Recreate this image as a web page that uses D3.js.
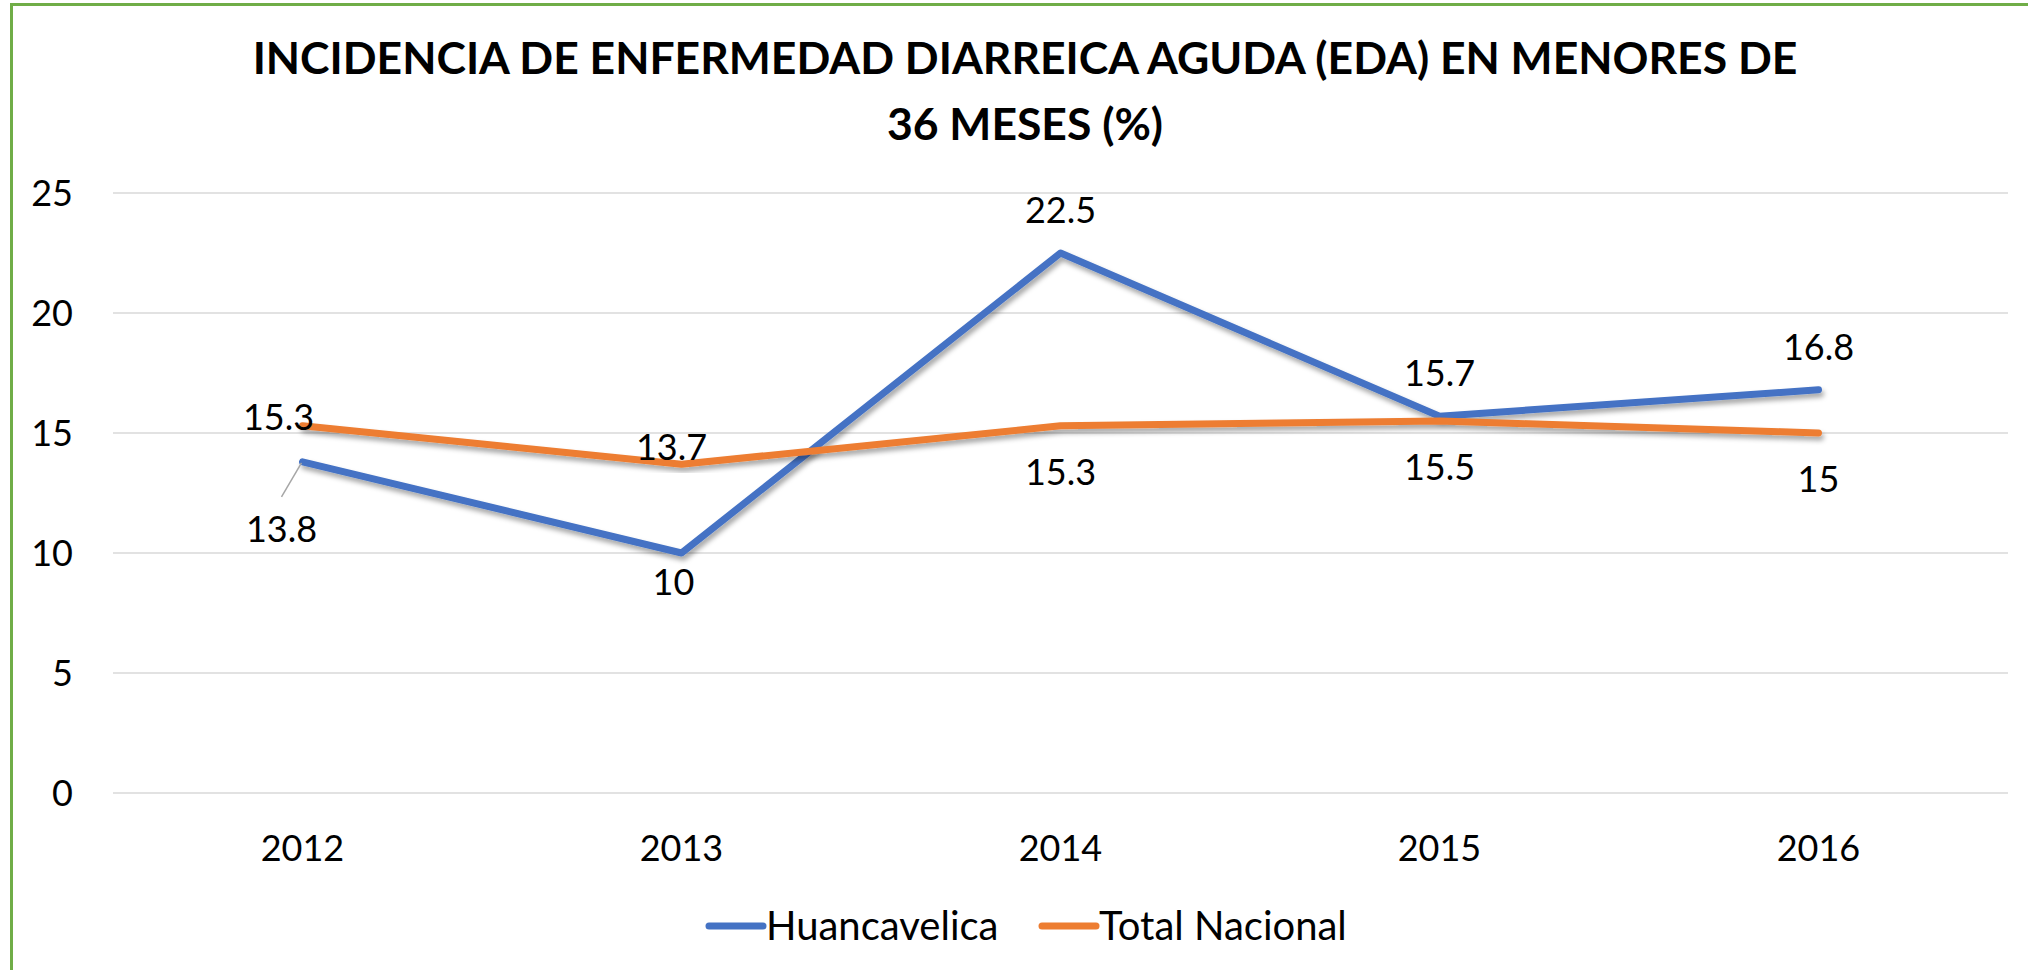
<!DOCTYPE html>
<html>
<head>
<meta charset="utf-8">
<script src="https://cdn.jsdelivr.net/npm/d3@7"></script>
<style>
  html, body { margin: 0; padding: 0; background: #fff; }
  #svg-container { width: 2028px; height: 970px; }
  text { font-family: Lato, 'Open Sans', sans-serif; fill: #000; }
</style>
</head>
<body>
<div id="svg-container"></div>
<script>
// chart values
const years = ['2012', '2013', '2014', '2015', '2016']
const huancavelica = [13.8, 10, 22.5, 15.7, 16.8]
const totalNacional = [15.3, 13.7, 15.3, 15.5, 15]
const yTicks = [0, 5, 10, 15, 20, 25]
const seriesNames = ['Huancavelica', 'Total Nacional']
const titleLines = [
  'INCIDENCIA DE ENFERMEDAD DIARREICA AGUDA (EDA) EN MENORES DE',
  '36 MESES (%)',
]

const svgParentNodeSelector = '#svg-container'

;(function () {
  const svgWidth = 2028
  const svgHeight = 970

  const marginLeft = 113
  const marginRight = 20
  const plotTop = 193
  const plotBottom = 793

  const colors = ['#4472C4', '#ED7D31']
  const labelSize = '36px'

  // label placement relative to the point (dx, baseline dy), per series / year
  const labelOffsets = [
    [[-21, 80], [-8, 42], [0, -30], [0, -30], [0, -30]],
    [[-24, 4], [-10, -4], [0, 59], [0, 59], [0, 59]],
  ]

  const svg = d3
    .select(svgParentNodeSelector)
    .append('svg')
    .attr('width', svgWidth)
    .attr('height', svgHeight)
    .style('background', '#fff')

  const defs = svg.append('defs')
  defs
    .append('filter')
    .attr('id', 'shadow')
    .attr('x', '-10%')
    .attr('y', '-10%')
    .attr('width', '120%')
    .attr('height', '130%')
    .append('feDropShadow')
    .attr('dx', 2)
    .attr('dy', 4)
    .attr('stdDeviation', 2.5)
    .attr('flood-color', '#000')
    .attr('flood-opacity', 0.35)

  // green frame
  svg
    .append('rect')
    .attr('x', 11.5)
    .attr('y', 4.5)
    .attr('width', svgWidth + 20)
    .attr('height', svgHeight + 20)
    .attr('fill', 'none')
    .attr('stroke', '#70AD47')
    .attr('stroke-width', 3)

  // title
  svg
    .append('g')
    .selectAll('text')
    .data(titleLines)
    .join('text')
    .attr('x', 1025)
    .attr('y', (d, i) => 74 + i * 66)
    .attr('text-anchor', 'middle')
    .style('font-size', '44.5px')
    .style('font-weight', 700)
    .text(d => d)

  const x = d3
    .scalePoint()
    .domain(years)
    .range([marginLeft, svgWidth - marginRight])
    .padding(0.5)

  const y = d3.scaleLinear().domain([0, 25]).range([plotBottom, plotTop])

  // gridlines
  svg
    .append('g')
    .selectAll('line')
    .data(yTicks)
    .join('line')
    .attr('x1', marginLeft)
    .attr('x2', svgWidth - marginRight)
    .attr('y1', d => y(d))
    .attr('y2', d => y(d))
    .attr('stroke', '#d9d9d9')
    .attr('stroke-width', 1.5)

  // y axis labels
  svg
    .append('g')
    .selectAll('text')
    .data(yTicks)
    .join('text')
    .attr('x', 73)
    .attr('y', d => y(d) + 12.5)
    .attr('text-anchor', 'end')
    .style('font-size', labelSize)
    .text(d => d)

  // x axis labels
  svg
    .append('g')
    .selectAll('text')
    .data(years)
    .join('text')
    .attr('x', d => x(d))
    .attr('y', 861)
    .attr('text-anchor', 'middle')
    .style('font-size', labelSize)
    .text(d => d)

  const series = [huancavelica, totalNacional].map((values, s) =>
    years.map((year, i) => ({ year, value: values[i], s, i })),
  )

  const line = d3
    .line()
    .x(d => x(d.year))
    .y(d => y(d.value))

  svg
    .append('g')
    .selectAll('path')
    .data(series)
    .join('path')
    .attr('d', line)
    .attr('fill', 'none')
    .attr('stroke', (d, s) => colors[s])
    .attr('stroke-width', 7)
    .attr('stroke-linecap', 'round')
    .attr('stroke-linejoin', 'round')
    .attr('filter', 'url(#shadow)')

  // leader line for the displaced 2012 Huancavelica label
  const p0 = series[0][0]
  svg
    .append('line')
    .attr('x1', x(p0.year) - 1)
    .attr('y1', y(p0.value) + 1)
    .attr('x2', x(p0.year) - 21)
    .attr('y2', y(p0.value) + 35)
    .attr('stroke', '#a6a6a6')
    .attr('stroke-width', 1.5)

  // data labels
  svg
    .append('g')
    .selectAll('g')
    .data(series)
    .join('g')
    .selectAll('text')
    .data(d => d)
    .join('text')
    .attr('x', d => x(d.year) + labelOffsets[d.s][d.i][0])
    .attr('y', d => y(d.value) + labelOffsets[d.s][d.i][1])
    .attr('text-anchor', 'middle')
    .style('font-size', labelSize)
    .text(d => d.value)

  // legend
  const legend = svg
    .append('g')
    .selectAll('g')
    .data(seriesNames)
    .join('g')
    .attr('transform', (d, i) => `translate(${[709, 1042][i]}, 926)`)

  legend
    .append('line')
    .attr('x1', 0)
    .attr('x2', 54)
    .attr('stroke', (d, i) => colors[i])
    .attr('stroke-width', 7)
    .attr('stroke-linecap', 'round')

  legend
    .append('text')
    .attr('x', 57)
    .attr('y', 14)
    .style('font-size', '40px')
    .text(d => d)
})()
</script>
</body>
</html>
